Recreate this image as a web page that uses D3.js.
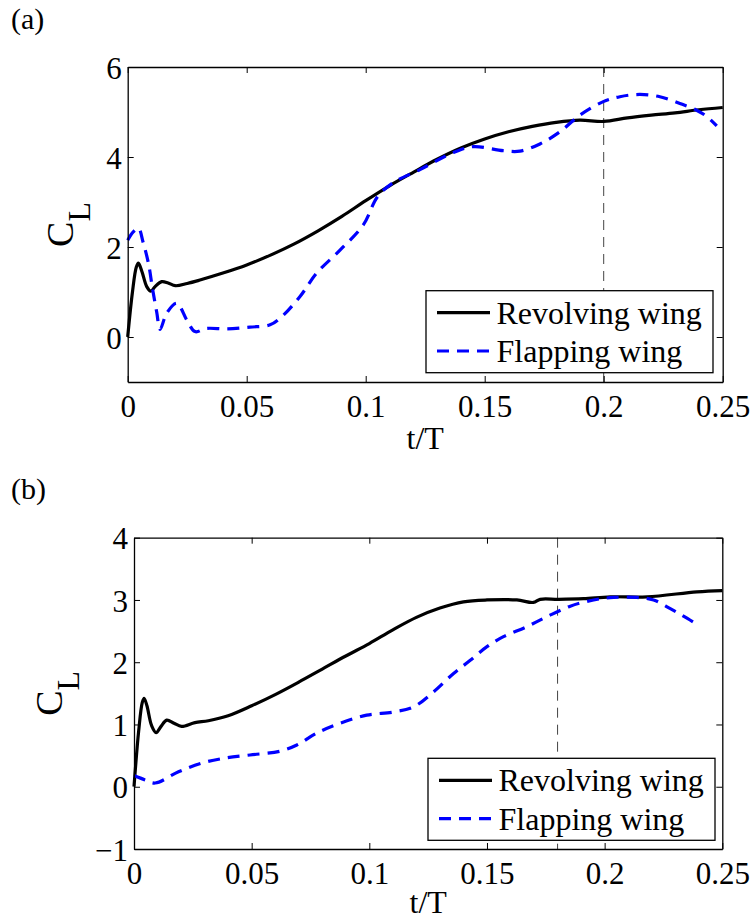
<!DOCTYPE html>
<html>
<head>
<meta charset="utf-8">
<script src="https://cdn.jsdelivr.net/npm/d3@7"></script>
<style>
  body { margin: 0; background: #fff; }
  svg text { font-family: "Liberation Serif", "Times New Roman", serif; fill: #000; }
</style>
</head>
<body>
<svg id="fig" width="753" height="922"></svg>
<script>
// ---- data ----
const tTicks = [0, 0.05, 0.1, 0.15, 0.2, 0.25];
const clTicksA = [0, 2, 4, 6];
const clTicksB = [-1, 0, 1, 2, 3, 4];
const seriesNames = ["Revolving wing", "Flapping wing"];

// panel (a)
const revolvingA = [
  [0, 0], [0.002, 1.0], [0.0036, 1.55], [0.0045, 1.64], [0.006, 1.45], [0.008, 1.12],
  [0.0097, 1.02], [0.0115, 1.12], [0.0143, 1.23], [0.017, 1.2], [0.02, 1.14],
  [0.025, 1.19], [0.03, 1.26], [0.04, 1.42], [0.05, 1.6], [0.06, 1.82], [0.07, 2.07],
  [0.08, 2.36], [0.09, 2.68], [0.1, 3.03], [0.11, 3.36], [0.12, 3.66], [0.13, 3.95],
  [0.14, 4.2], [0.15, 4.4], [0.16, 4.56], [0.17, 4.68], [0.18, 4.77], [0.19, 4.82],
  [0.2, 4.79], [0.21, 4.87], [0.22, 4.93], [0.23, 4.98], [0.24, 5.05], [0.25, 5.1]
];
const flappingA = [
  [0, 2.15], [0.0024, 2.34], [0.0045, 2.42], [0.0065, 2.1], [0.0087, 1.64],
  [0.0105, 1.05], [0.0122, 0.55], [0.0136, 0.17], [0.0164, 0.53], [0.0206, 0.75],
  [0.0248, 0.38], [0.0283, 0.12], [0.033, 0.19], [0.0416, 0.18], [0.0514, 0.22],
  [0.0598, 0.27], [0.0647, 0.45], [0.0724, 0.9], [0.0794, 1.42], [0.0892, 1.93],
  [0.099, 2.49], [0.105, 3.12], [0.1116, 3.43], [0.1228, 3.72], [0.1368, 4.1],
  [0.1452, 4.23], [0.1578, 4.14], [0.1648, 4.13], [0.1732, 4.29], [0.1816, 4.56],
  [0.19, 4.93], [0.1998, 5.23], [0.2068, 5.34], [0.2152, 5.39], [0.2236, 5.34],
  [0.232, 5.19], [0.239, 5.04], [0.2433, 4.9], [0.2475, 4.69]
];

// panel (b)
const revolvingB = [
  [0, 0], [0.002, 0.9], [0.0035, 1.35], [0.0043, 1.42], [0.0055, 1.3], [0.0075, 0.98],
  [0.0094, 0.87], [0.0115, 0.97], [0.0139, 1.07], [0.017, 1.02], [0.0202, 0.97],
  [0.0259, 1.03], [0.0316, 1.06], [0.04, 1.14], [0.05, 1.3], [0.06, 1.48],
  [0.07, 1.68], [0.08, 1.89], [0.09, 2.1], [0.1, 2.3], [0.11, 2.52], [0.12, 2.72],
  [0.13, 2.87], [0.14, 2.97], [0.15, 3.0], [0.1627, 3.0], [0.1697, 2.96],
  [0.1726, 3.01], [0.1804, 3.01], [0.191, 3.02], [0.2024, 3.05], [0.218, 3.05],
  [0.2392, 3.13], [0.25, 3.15]
];
const flappingB = [
  [0, 0.18], [0.0047, 0.11], [0.009, 0.06], [0.0189, 0.24], [0.0288, 0.38],
  [0.0387, 0.46], [0.0493, 0.51], [0.062, 0.57], [0.0692, 0.67], [0.0776, 0.86],
  [0.0876, 1.02], [0.0989, 1.15], [0.1102, 1.2], [0.1187, 1.28], [0.1272, 1.52],
  [0.1358, 1.82], [0.1429, 2.03], [0.15, 2.25], [0.157, 2.41], [0.1669, 2.57],
  [0.1754, 2.73], [0.1854, 2.9], [0.1953, 3.0], [0.2038, 3.04], [0.2137, 3.04],
  [0.2208, 3.0], [0.2279, 2.86], [0.2335, 2.74], [0.2392, 2.61]
];

const svg = d3.select("#fig");

const fmt = d => d < 0 ? "\u2212" + (-d) : String(d);

function drawPanel(cfg) {
  const x = d3.scaleLinear().domain([0, 0.25]).range([cfg.left, cfg.right]),
        y = d3.scaleLinear().domain(cfg.yDomain).range([cfg.bottom, cfg.top]);

  const g = svg.append("g");

  // panel letter
  g.append("text")
    .attr("x", 11).attr("y", cfg.letterY)
    .attr("font-size", 30)
    .text(cfg.letter);

  // dashed marker line
  g.append("line")
    .attr("x1", x(cfg.marker)).attr("x2", x(cfg.marker))
    .attr("y1", cfg.top).attr("y2", cfg.bottom)
    .attr("stroke", "#444").attr("stroke-width", 1)
    .attr("stroke-dasharray", "10,7");

  const line = d3.line()
    .x(d => x(d[0])).y(d => y(d[1]))
    .curve(d3.curveCatmullRom.alpha(0.5));

  g.append("path").datum(cfg.revolving)
    .attr("d", line)
    .attr("fill", "none").attr("stroke", "#000")
    .attr("stroke-width", 3.2).attr("stroke-linejoin", "round");

  g.append("path").datum(cfg.flapping)
    .attr("d", line)
    .attr("fill", "none").attr("stroke", "#0000ff")
    .attr("stroke-width", 3.2).attr("stroke-dasharray", "12,8");

  // axes, ticks pointing inward
  g.append("g")
    .attr("transform", `translate(0,${cfg.bottom})`)
    .call(d3.axisBottom(x).tickValues(tTicks).tickFormat(fmt)
      .tickSizeInner(-6).tickSizeOuter(0).tickPadding(13));
  g.append("g")
    .attr("transform", `translate(0,${cfg.top})`)
    .call(d3.axisTop(x).tickValues(tTicks).tickFormat("")
      .tickSizeInner(-6).tickSizeOuter(0));
  const leftAxis = g.append("g")
    .attr("transform", `translate(${cfg.left},0)`)
    .call(d3.axisLeft(y).tickValues(cfg.yTicks).tickFormat(fmt)
      .tickSizeInner(-6).tickSizeOuter(0).tickPadding(6));
  g.append("g")
    .attr("transform", `translate(${cfg.right},0)`)
    .call(d3.axisRight(y).tickValues(cfg.yTicks).tickFormat("")
      .tickSizeInner(-6).tickSizeOuter(0));

  g.selectAll(".domain").attr("stroke", "#000").attr("stroke-width", 1.3);
  g.selectAll(".tick line").attr("stroke", "#000").attr("stroke-width", 1);
  g.selectAll(".tick text")
    .attr("font-size", 31).attr("fill", "#000");
  leftAxis.selectAll(".tick text").attr("dy", "0.36em");

  // axis labels
  g.append("text")
    .attr("x", (cfg.left + cfg.right) / 2).attr("y", cfg.xLabelY)
    .attr("text-anchor", "middle").attr("font-size", 32)
    .text("t/T");

  const yl = g.append("text")
    .attr("transform", `translate(${cfg.yLabelX},${(cfg.top + cfg.bottom) / 2}) rotate(-90)`)
    .attr("text-anchor", "middle");
  yl.append("tspan").attr("font-size", 38).text("C");
  yl.append("tspan").attr("font-size", 32).attr("dy", 17).text("L");

  // legend
  const lg = g.append("g")
    .attr("transform", `translate(${cfg.legend[0]},${cfg.legend[1]})`);
  lg.append("rect")
    .attr("width", 287).attr("height", 82)
    .attr("fill", "#fff").attr("stroke", "#000").attr("stroke-width", 1.3);
  const rows = [
    {name: seriesNames[0], color: "#000", dash: null},
    {name: seriesNames[1], color: "#0000ff", dash: "12,8"}
  ];
  rows.forEach((r, i) => {
    const ry = 22 + i * 38.3;
    lg.append("line")
      .attr("x1", 11).attr("x2", 64).attr("y1", ry).attr("y2", ry)
      .attr("stroke", r.color).attr("stroke-width", 3.2)
      .attr("stroke-dasharray", r.dash);
    lg.append("text")
      .attr("x", 70.5).attr("y", ry + 11)
      .attr("font-size", 32)
      .text(r.name);
  });
}

drawPanel({
  letter: "(a)", letterY: 29,
  left: 127.7, right: 722.7, top: 67, bottom: 382,
  yDomain: [-1, 6], yTicks: clTicksA, marker: 0.2,
  yLabelX: 73, xLabelY: 449, legend: [426, 290.7],
  revolving: revolvingA, flapping: flappingA
});

drawPanel({
  letter: "(b)", letterY: 499,
  left: 134, right: 722.3, top: 537.7, bottom: 849,
  yDomain: [-1, 4], yTicks: clTicksB, marker: 0.18,
  yLabelX: 62, xLabelY: 913, legend: [428, 758.3],
  revolving: revolvingB, flapping: flappingB
});
</script>
</body>
</html>
